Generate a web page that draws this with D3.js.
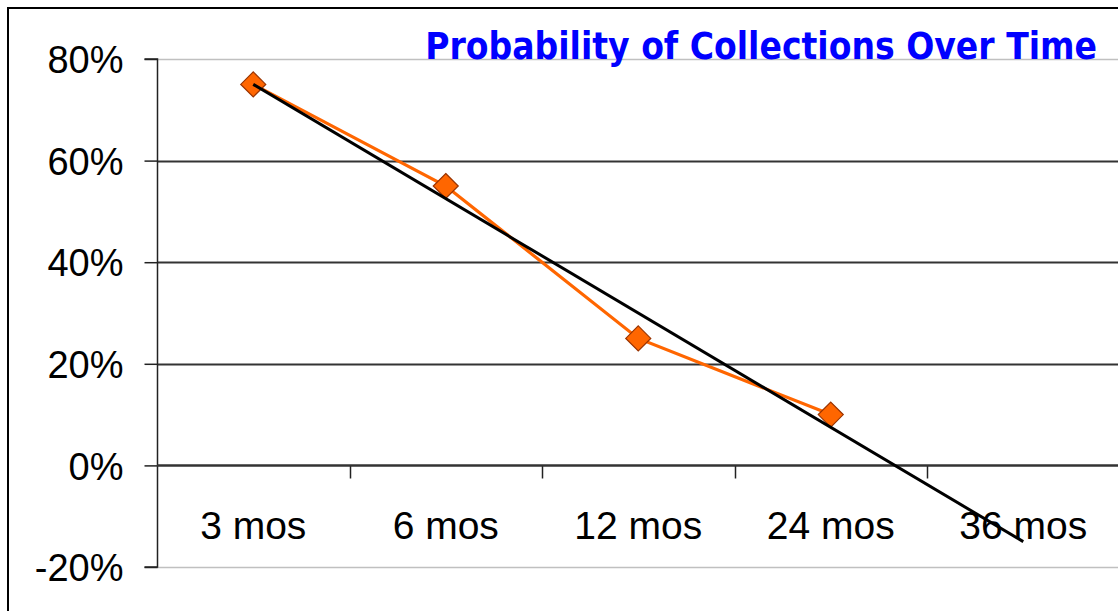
<!DOCTYPE html>
<html><head><meta charset="utf-8">
<script src="https://cdn.jsdelivr.net/npm/d3@7"></script>
<style>html,body{margin:0;padding:0;background:#fff;overflow:hidden}</style>
</head><body>
<svg id="c" width="1118" height="611"></svg>
<script>
const categories = ["3 mos", "6 mos", "12 mos", "24 mos", "36 mos"];
const values = [0.75, 0.55, 0.25, 0.10, null];
const yTicks = [-0.2, 0, 0.2, 0.4, 0.6, 0.8];
const title = "Probability of Collections Over Time";

const svg = d3.select("#c");
svg.append("rect").attr("x", 8).attr("y", 8).attr("width", 1130).attr("height", 620)
  .attr("fill", "#fff").attr("stroke", "#000").attr("stroke-width", 2);

const x = d3.scaleBand().domain(categories).range([157, 1119.5]).padding(0);
const y = d3.scaleLinear().domain([-0.2, 0.8]).range([567, 59]);
const right = 1125;

// gridlines
yTicks.forEach(t => {
  const light = (t === 0.8 || t === -0.2);
  svg.append("line").attr("x1", 157).attr("x2", right)
    .attr("y1", Math.round(y(t)) + 0.5).attr("y2", Math.round(y(t)) + 0.5)
    .attr("stroke", light ? "#c0c0c0" : "#333").attr("stroke-width", light ? 1.3 : 2);
});

// y axis
const yAxis = d3.axisLeft(y).tickValues(yTicks).tickSize(13).tickPadding(21)
  .tickFormat(d => Math.round(d * 100) + "%");
const gy = svg.append("g").attr("transform", "translate(157.5,0)").call(yAxis);
gy.select(".domain").attr("stroke", "#222").attr("stroke-width", 1.5).attr("d", `M-13,${y(0.8)}H0V${y(-0.2)}H-13`);
gy.selectAll(".tick line").attr("stroke", "#222").attr("stroke-width", 1.5);
gy.selectAll(".tick text").attr("font-family", "Liberation Sans, Arial, sans-serif")
  .attr("font-size", 38).attr("fill", "#000").attr("dy", "0.36em");

// x axis at 0
const xAxis = d3.axisBottom(x).tickSize(0).tickPadding(0);
const gx = svg.append("g").attr("transform", `translate(0,${Math.round(y(0)) + 0.5})`).call(xAxis);
gx.select(".domain").remove();
gx.selectAll(".tick text").attr("font-family", "Liberation Sans, Arial, sans-serif")
  .attr("font-size", 39).attr("fill", "#000").attr("dy", "0").attr("y", 73);
categories.slice(1).forEach(c => {
  gx.append("line").attr("x1", Math.round(x(c)) + 0.5).attr("x2", Math.round(x(c)) + 0.5)
    .attr("y1", 0).attr("y2", 13).attr("stroke", "#222").attr("stroke-width", 1.5);
});
gx.append("line").attr("x1", 157).attr("x2", right).attr("y1", 0).attr("y2", 0)
  .attr("stroke", "#333").attr("stroke-width", 2);

// title
const tt = svg.append("text").text(title).attr("x", 1097).attr("y", 59)
  .attr("text-anchor", "end").attr("font-family", "'DejaVu Sans Condensed', 'DejaVu Sans', Verdana, sans-serif")
  .attr("font-stretch", "condensed")
  .attr("font-weight", "bold").attr("font-size", 34).attr("fill", "#0000ff");
const w = tt.node().getComputedTextLength();
tt.attr("font-size", Math.min(38, 34 * 672 / w));

// series
const pts = categories.map((c, i) => ({c, v: values[i]})).filter(d => d.v != null);
const cx = d => x(d.c) + x.bandwidth() / 2;
svg.append("path").datum(pts)
  .attr("d", d3.line().x(cx).y(d => y(d.v)))
  .attr("fill", "none").attr("stroke", "#ff6600").attr("stroke-width", 3.2);
svg.selectAll(".m").data(pts).join("path")
  .attr("transform", d => `translate(${cx(d)},${y(d.v)})`)
  .attr("d", "M0,-12.5L12.5,0L0,12.5L-12.5,0Z")
  .attr("fill", "#ff6600").attr("stroke", "#993300").attr("stroke-width", 1.2);

// linear trendline (least squares over available points)
const xs = pts.map((d, i) => categories.indexOf(d.c) + 1);
const ys = pts.map(d => d.v);
const mx = d3.mean(xs), my = d3.mean(ys);
const slope = d3.sum(xs.map((xi, i) => (xi - mx) * (ys[i] - my))) / d3.sum(xs.map(xi => (xi - mx) ** 2));
const icpt = my - slope * mx;
const tpts = [1, categories.length].map(k => ({c: categories[k - 1], v: icpt + slope * k}));
svg.append("path").datum(tpts)
  .attr("d", d3.line().x(cx).y(d => y(d.v)))
  .attr("fill", "none").attr("stroke", "#000").attr("stroke-width", 3);
</script>
</body></html>
